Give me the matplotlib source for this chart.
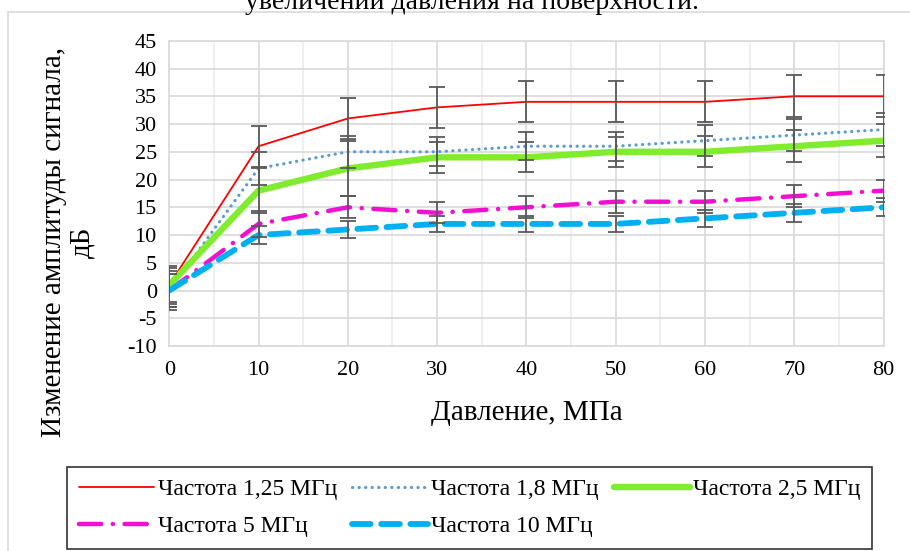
import numpy as np
import matplotlib.pyplot as plt
from matplotlib.lines import Line2D

plt.rcParams['font.family'] = ['Liberation Serif', 'DejaVu Serif']
plt.rcParams['axes.unicode_minus'] = False

# давление, МПа
davlenie = [0, 10, 20, 30, 40, 50, 60, 70, 80]

# изменение амплитуды, дБ
f125 = [1, 26, 31, 33, 34, 34, 34, 35, 35]
f18 = [0, 22, 25, 25, 26, 26, 27, 28, 29]
f25 = [1, 18, 22, 24, 24, 25, 25, 26, 27]
f5 = [0, 12, 15, 14, 15, 16, 16, 17, 18]
f10 = [0, 10, 11, 12, 12, 12, 13, 14, 15]

# погрешности
err125 = [3.5, 3.7, 3.7, 3.7, 3.7, 3.7, 3.7, 3.8, 3.8]
err18 = [3, 2.9, 2.9, 2.6, 2.5, 2.6, 2.8, 2.9, 3.0]
err25 = [3, 4, 5, 2.8, 2.7, 2.7, 2.8, 2.9, 3.0]
err5 = [3, 2.4, 2.0, 1.9, 2.0, 2.0, 2.0, 2.0, 2.0]
err10 = [3.5, 1.6, 1.6, 1.5, 1.5, 1.5, 1.5, 1.6, 1.6]

nazvaniya = ['Частота 1,25 МГц', 'Частота 1,8 МГц', 'Частота 2,5 МГц',
             'Частота 5 МГц', 'Частота 10 МГц']

fig = plt.figure(figsize=(9.1, 5.51), dpi=100)
ax = fig.add_axes([0.186, 0.372, 0.785, 0.554])

stili = [
    dict(color='#ff0000', lw=1.3, ls='-'),
    dict(color='#5b9bd5', lw=2.3, ls=(0, (0.05, 2.0)), dash_capstyle='round'),
    dict(color='#7fec2e', lw=4.6, ls='-'),
    dict(color='#f20fd2', lw=3.2, ls=(0, (5, 2.6, 0.05, 2.6)), dash_capstyle='round'),
    dict(color='#00b0f0', lw=4.2, ls=(0, (3.2, 1.8)), dash_capstyle='round'),
]
ryady = [f125, f18, f25, f5, f10]
oshibki = [err125, err18, err25, err5, err10]

linii = []
for y, st, nm in zip(ryady, stili, nazvaniya):
    l, = ax.plot(davlenie, y, label=nm, solid_capstyle='round', zorder=3, **st)
    linii.append(l)

for y, e in zip(ryady, oshibki):
    ax.errorbar(davlenie, y, yerr=e, fmt='none', ecolor='#595959',
                elinewidth=1.3, capsize=6, capthick=1.3, zorder=4)

ax.set_xlim(0, 80)
ax.set_ylim(-10, 45)
ax.set_xticks(range(0, 81, 10))
ax.set_xticks(range(5, 80, 10), minor=True)
ax.set_yticks(range(-10, 46, 5))
ax.grid(which='major', color='#d9d9d9', lw=1.2, zorder=0)
ax.grid(which='minor', axis='x', color='#ececec', lw=1.2, zorder=0)
ax.tick_params(which='both', length=0, labelsize=16, pad=9)
ax.tick_params(axis='x', pad=11)
for s in ax.spines.values():
    s.set_color('#d9d9d9')
    s.set_linewidth(1.2)

ax.set_xlabel('Давление, МПа', fontsize=21, labelpad=14)
ax.set_ylabel('Изменение амплитуды сигнала,\nдБ', fontsize=21,
              linespacing=1.15)
ax.yaxis.set_label_coords(-0.103, 0.34)

# обрезанная подпись сверху
fig.text(0.519, 0.996, 'увеличении давления на поверхности.', fontsize=20,
         ha='center', va='center')
fig.add_artist(Line2D([0.009, 1.0], [0.979, 0.979], color='#d9d9d9', lw=1.2))
fig.add_artist(Line2D([0.009, 0.009], [0.0, 0.979], color='#d9d9d9', lw=1.2))

poryadok = [0, 3, 1, 4, 2]
leg = fig.legend([linii[i] for i in poryadok], [nazvaniya[i] for i in poryadok],
                 ncol=3, loc='lower left', bbox_to_anchor=(0.0736, 0.004, 0.885, 0.1),
                 mode='expand', fontsize=17, handlelength=3.2, handletextpad=0.15,
                 columnspacing=0.1, labelspacing=0.65, fancybox=False,
                 edgecolor='black', borderpad=0.5, borderaxespad=0)
leg.get_frame().set_linewidth(1.2)

fig.savefig('out.png', dpi=100)
